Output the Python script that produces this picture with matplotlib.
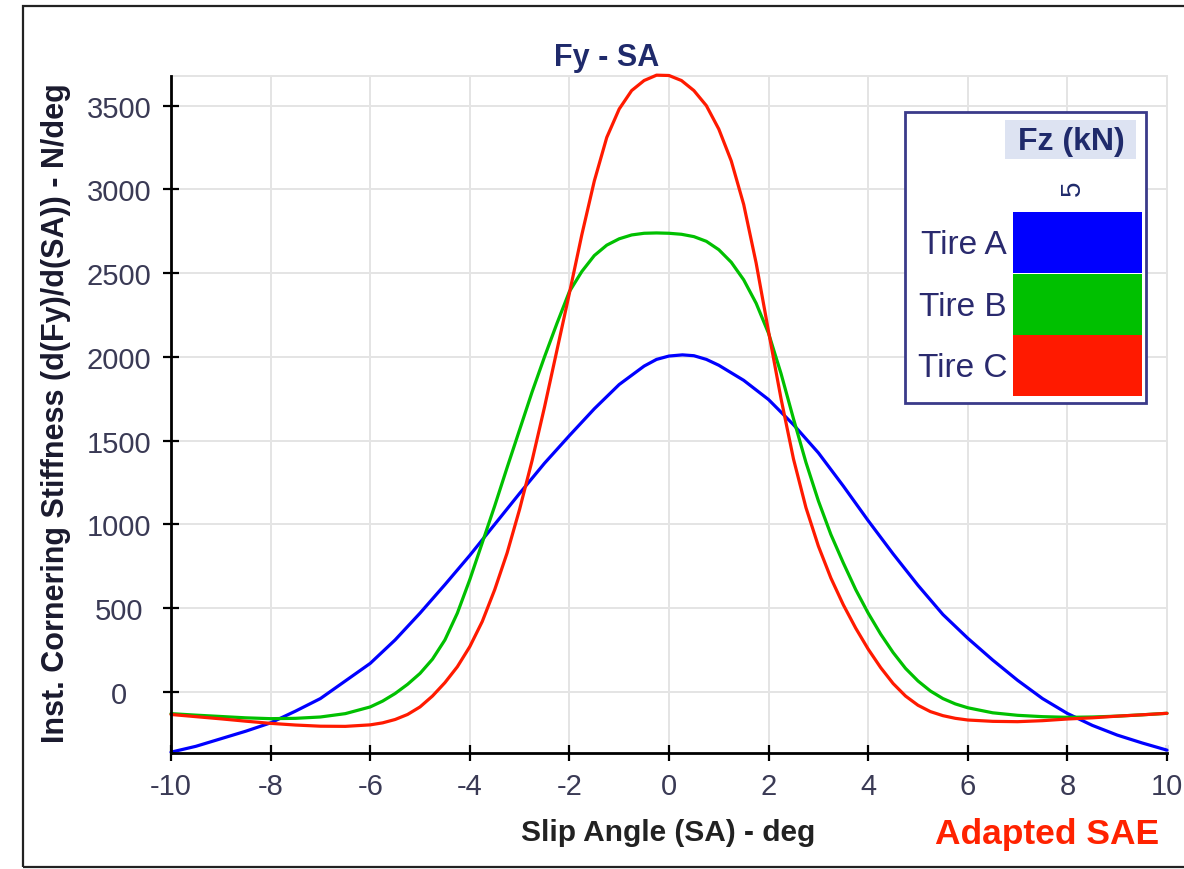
import matplotlib
matplotlib.use("Agg")
import matplotlib.pyplot as plt
from matplotlib.patches import Rectangle

plt.rcParams['font.family'] = ['Liberation Sans', 'DejaVu Sans']
plt.rcParams['axes.unicode_minus'] = False

# ---- data ----
sa_a = [-10, -9.5, -9, -8.5, -8, -7.5, -7, -6.5, -6, -5.5, -5, -4.5, -4, -3.5, -3, -2.5, -2,
        -1.5, -1, -0.5, -0.25, 0, 0.27, 0.5, 0.75, 1, 1.5, 2, 2.5, 3, 3.5, 4, 4.5, 5, 5.5, 6,
        6.5, 7, 7.5, 8, 8.5, 9, 9.5, 10]
tire_a = [-360, -325, -280, -235, -185, -115, -40, 65, 170, 310, 470, 640, 815, 1000, 1185,
          1365, 1530, 1690, 1835, 1945, 1985, 2005, 2012, 2007, 1985, 1950, 1860, 1745, 1595,
          1427, 1229, 1022, 824, 636, 462, 320, 190, 69, -40, -129, -200, -258, -305, -348]

sa_bc = [-10, -9.5, -9, -8.5, -8, -7.5, -7, -6.5, -6, -5.75, -5.5, -5.25, -5, -4.75, -4.5,
         -4.25, -4, -3.75, -3.5, -3.25, -3, -2.75, -2.5, -2.25, -2, -1.75, -1.5, -1.25, -1,
         -0.75, -0.5, -0.25, 0, 0.25, 0.5, 0.75, 1, 1.25, 1.5, 1.75, 2, 2.25, 2.5, 2.75, 3,
         3.25, 3.5, 3.75, 4, 4.25, 4.5, 4.75, 5, 5.25, 5.5, 5.75, 6, 6.5, 7, 7.5, 8, 8.5, 9,
         9.5, 10]
tire_b = [-130, -139, -147, -155, -160, -158, -150, -130, -90, -55, -10, 45, 110, 195, 310,
          470, 670, 890, 1110, 1340, 1565, 1790, 2000, 2200, 2390, 2510, 2605, 2667, 2705,
          2728, 2738, 2740, 2738, 2732, 2718, 2690, 2640, 2565, 2460, 2320, 2140, 1900, 1630,
          1370, 1140, 940, 770, 610, 470, 345, 235, 140, 65, 5, -40, -72, -95, -125, -140,
          -148, -152, -150, -145, -137, -128]
tire_c = [-135, -148, -161, -175, -188, -198, -205, -206, -197, -185, -165, -135, -90, -25,
          55, 150, 270, 420, 610, 830, 1090, 1380, 1700, 2040, 2380, 2730, 3050, 3310, 3480,
          3590, 3650, 3682, 3680, 3650, 3590, 3500, 3360, 3170, 2910, 2560, 2150, 1750, 1390,
          1100, 870, 680, 520, 380, 255, 145, 50, -25, -80, -118, -142, -158, -168, -176,
          -178, -172, -162, -155, -145, -137, -128]

series_names = ["Tire A", "Tire B", "Tire C"]
series_colors = ["#0000ff", "#00c000", "#ff1a00"]
x_ticks = list(range(-10, 11, 2))
y_ticks = list(range(0, 3501, 500))

# ---- figure ----
W, H = 1184, 870
fig = plt.figure(figsize=(W / 100, H / 100), dpi=100)

def fx(px):
    return px / W

def fy(py):
    return 1 - py / H

ax = fig.add_axes([fx(171), fy(754), fx(1167) - fx(171), fy(77) - fy(754)])
ax.set_xlim(-10, 10)
ax.set_ylim(-365, 3677)

for s, vals, col in [(sa_a, tire_a, series_colors[0]),
                     (sa_bc, tire_b, series_colors[1]),
                     (sa_bc, tire_c, series_colors[2])]:
    ax.plot(s, vals, color=col, lw=2.3, solid_capstyle='round', solid_joinstyle='round',
            zorder=3, clip_on=False)

ax.set_xticks(x_ticks)
ax.set_yticks(y_ticks)
ax.grid(True, color='#e4e4e4', lw=1.4, zorder=0)
ax.set_axisbelow(True)

for side in ['top', 'right']:
    ax.spines[side].set_color('#e4e4e4')
    ax.spines[side].set_linewidth(1.4)
for side in ['left', 'bottom']:
    ax.spines[side].set_color('black')
    ax.spines[side].set_linewidth(2.0)
    ax.spines[side].set_zorder(4)

tick_col = '#3a3a55'
ax.tick_params(axis='both', direction='inout', length=11, width=1.6, color='black',
               labelsize=21, labelcolor=tick_col)
ax.tick_params(axis='x', pad=8)
ax.tick_params(axis='y', pad=32)
for lab in ax.get_yticklabels():
    lab.set_horizontalalignment('center')

# titles / labels
fig.text(fx(607), fy(58), "Fy - SA", ha='center', va='center', fontsize=22,
         fontweight='bold', color='#1f2a6b')
fig.text(fx(668), fy(833), "Slip Angle (SA) - deg", ha='center', va='center',
         fontsize=21.5, fontweight='bold', color='#222222')
fig.text(fx(56), fy(413), "Inst. Cornering Stiffness (d(Fy)/d(SA)) - N/deg", ha='center',
         va='center', rotation=90, fontsize=22, fontweight='bold', color='#1a1a2e')
fig.text(fx(1047), fy(835), "Adapted SAE", ha='center', va='center', fontsize=25.5,
         fontweight='bold', color='#ff2200')

# legend box (manual, in figure pixels)
fig.patches.append(Rectangle((fx(905), fy(404)), fx(1146) - fx(905), fy(113) - fy(404),
                             transform=fig.transFigure, facecolor='white',
                             edgecolor='#3a3a8a', lw=2, zorder=10))
fig.patches.append(Rectangle((fx(1005), fy(160)), fx(1136) - fx(1005), fy(121) - fy(160),
                             transform=fig.transFigure, facecolor='#dde3f2',
                             edgecolor='none', zorder=11))
fig.text(fx(1071), fy(142), "Fz (kN)", ha='center', va='center', fontsize=23,
         fontweight='bold', color='#1f2a6b', zorder=12)
fig.text(fx(1073), fy(188), "5", ha='center', va='center', fontsize=20, rotation=90,
         color='#1f2a6b', zorder=12)
row_tops = [213, 275, 336]
row_h = 61
for name, col, top in zip(series_names, series_colors, row_tops):
    fig.patches.append(Rectangle((fx(1013), fy(top + row_h)), fx(1142) - fx(1013),
                                 fy(top) - fy(top + row_h), transform=fig.transFigure,
                                 facecolor=col, edgecolor='none', zorder=11))
    fig.text(fx(1007), fy(top + row_h / 2 + 2), name, ha='right', va='center',
             fontsize=24, color='#2a2a6e', zorder=12)

# outer border
fig.patches.append(Rectangle((fx(23), fy(868)), fx(1200) - fx(23), fy(7) - fy(868),
                             transform=fig.transFigure, facecolor='none',
                             edgecolor='#222222', lw=1.6, zorder=20, clip_on=False))

fig.savefig("out.png", dpi=100)
